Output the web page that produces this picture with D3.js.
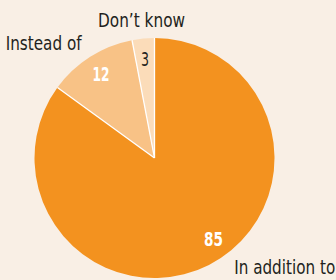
<!DOCTYPE html>
<html>
<head>
<meta charset="utf-8">
<script src="https://cdn.jsdelivr.net/npm/d3@7"></script>
<style>
  body { margin: 0; background: #f9efe5; }
  svg { display: block; }
  text { font-family: "DejaVu Sans", sans-serif; }
</style>
</head>
<body>
<svg width="336" height="280"></svg>
<script>
// answers, in percent
var answers = ["In addition to", "Instead of", "Don\u2019t know"];
var shares = [85, 12, 3];
var colours = ["#f3921f", "#f8c286", "#fbdcb9"];
var numberColours = ["#ffffff", "#ffffff", "#231f20"];

var width = 336, height = 280;
var cx = 154.5, cy = 158, radius = 120;

var svg = d3.select("svg");
var g = svg.append("g").attr("transform", "translate(" + cx + "," + cy + ")");

var pie = d3.pie().sort(null).value(function (d) { return d; });
var arcs = pie(shares);

var arc = d3.arc().innerRadius(0).outerRadius(radius);

g.selectAll("path.slice")
  .data(arcs)
  .enter()
  .append("path")
  .attr("class", "slice")
  .attr("d", arc)
  .attr("fill", function (d, i) { return colours[i]; });

// thin white seams between slices
g.selectAll("line.seam")
  .data(arcs)
  .enter()
  .append("line")
  .attr("x1", 0).attr("y1", 0)
  .attr("x2", function (d) { return radius * Math.sin(d.startAngle); })
  .attr("y2", function (d) { return -radius * Math.cos(d.startAngle); })
  .attr("stroke", "#ffffff")
  .attr("stroke-width", 1.3);

// where along each slice its labels sit (0 = start, 1 = end)
var along = [0.47, 0.5, 0.5];
function labelAngle(d, i) {
  return d.startAngle + (d.endAngle - d.startAngle) * along[i];
}
function polar(a, r) {
  return [r * Math.sin(a), -r * Math.cos(a)];
}

// the reference uses a condensed face, so squeeze the glyphs to its widths
var valueWidths = [19, 17, 8];
g.selectAll("text.value")
  .data(arcs)
  .enter()
  .append("text")
  .attr("class", "value")
  .attr("x", function (d, i) { return polar(labelAngle(d, i), 100)[0]; })
  .attr("y", function (d, i) { return polar(labelAngle(d, i), 100)[1]; })
  .attr("text-anchor", "middle")
  .attr("dy", "0.36em")
  .attr("font-size", 20)
  .attr("font-weight", function (d, i) { return i < 2 ? "bold" : "normal"; })
  .attr("fill", function (d, i) { return numberColours[i]; })
  .attr("textLength", function (d, i) { return valueWidths[i]; })
  .attr("lengthAdjust", "spacingAndGlyphs")
  .text(function (d) { return d.data; });

var anchors = ["start", "end", "middle"];
var outR = [135, 136, 138];
var answerWidths = [101, 76, 87];
g.selectAll("text.answer")
  .data(arcs)
  .enter()
  .append("text")
  .attr("class", "answer")
  .attr("x", function (d, i) { return polar(labelAngle(d, i), outR[i])[0]; })
  .attr("y", function (d, i) { return polar(labelAngle(d, i), outR[i])[1]; })
  .attr("text-anchor", function (d, i) { return anchors[i]; })
  .attr("dy", "0.36em")
  .attr("font-size", 19)
  .attr("fill", "#231f20")
  .attr("textLength", function (d, i) { return answerWidths[i]; })
  .attr("lengthAdjust", "spacingAndGlyphs")
  .text(function (d, i) { return answers[i]; });
</script>
</body>
</html>
